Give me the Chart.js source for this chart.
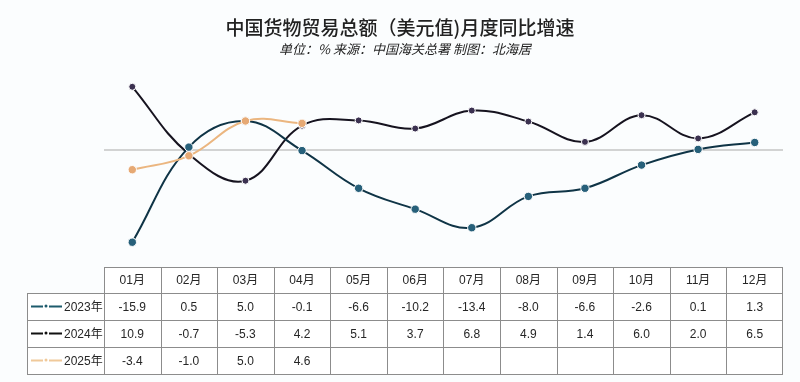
<!DOCTYPE html>
<html><head><meta charset="utf-8">
<script src="https://cdn.jsdelivr.net/npm/chart.js@4/dist/chart.umd.min.js"></script>
<style>html,body{margin:0;padding:0;background:#fbfdfe;}canvas{display:block;}</style>
</head><body>
<canvas id="c" width="800" height="382"></canvas>
<script>
const months = ['01月','02月','03月','04月','05月','06月','07月','08月','09月','10月','11月','12月'];
const seriesNames = ['2023年','2024年','2025年'];
const v2023 = [-15.9, 0.5, 5.0, -0.1, -6.6, -10.2, -13.4, -8.0, -6.6, -2.6, 0.1, 1.3];
const v2024 = [10.9, -0.7, -5.3, 4.2, 5.1, 3.7, 6.8, 4.9, 1.4, 6.0, 2.0, 6.5];
const v2025 = [-3.4, -1.0, 5.0, 4.6, null, null, null, null, null, null, null, null];
const titleText = '中国货物贸易总额（美元值)月度同比增速';
const subtitleText = '单位：% 来源：中国海关总署 制图：北海居';

const lineColors = ['#0f3446', '#16131f', '#ebb680'];
const pointColors = ['#27607a', '#3b3150', '#e6a974'];
const legendColors = ['#1d5b6c', '#111111', '#f0c99a'];
const allSeries = [v2023, v2024, v2025];

const fmt = v => (v === null || v === undefined) ? '' : v.toFixed(1);

const deco = {
  id: 'deco',
  beforeDraw(chart) {
    const ctx = chart.ctx;
    ctx.save();
    ctx.fillStyle = '#fbfdfe';
    ctx.fillRect(0, 0, chart.width, chart.height);
    // zero line
    const y0 = chart.scales.y.getPixelForValue(0);
    const a = chart.chartArea;
    ctx.strokeStyle = '#c4c4c4';
    ctx.lineWidth = 1.5;
    ctx.beginPath(); ctx.moveTo(a.left, y0); ctx.lineTo(a.right, y0); ctx.stroke();
    // titles
    ctx.fillStyle = '#222';
    ctx.textAlign = 'center'; ctx.textBaseline = 'middle';
    ctx.font = '500 19px "Noto Sans CJK SC", sans-serif';
    ctx.fillText(titleText, 400, 28);
    ctx.font = 'italic 13px "Noto Sans CJK SC", sans-serif';
    ctx.fillText(subtitleText, 405, 49);
    // table
    const xs = chart.scales.x;
    const half = (xs.getPixelForValue(1) - xs.getPixelForValue(0)) / 2;
    const rows = [267, 293, 320, 347, 374];
    const left = a.left, right = a.right, legLeft = 27;
    ctx.fillStyle = '#ffffff';
    ctx.fillRect(left, rows[0], right - left, rows[4] - rows[0]);
    ctx.fillRect(legLeft, rows[1], left - legLeft, rows[4] - rows[1]);
    ctx.strokeStyle = '#8c8c8c';
    ctx.lineWidth = 1;
    ctx.beginPath();
    // horizontal lines
    ctx.moveTo(left, rows[0] + 0.5); ctx.lineTo(right, rows[0] + 0.5);
    for (let r = 1; r < rows.length; r++) {
      ctx.moveTo(legLeft, rows[r] + 0.5); ctx.lineTo(right, rows[r] + 0.5);
    }
    // vertical lines
    ctx.moveTo(legLeft + 0.5, rows[1]); ctx.lineTo(legLeft + 0.5, rows[4]);
    for (let i = 0; i < months.length; i++) {
      const xl = Math.round(xs.getPixelForValue(i) - half) + 0.5;
      ctx.moveTo(xl, rows[0]); ctx.lineTo(xl, rows[4]);
    }
    const xr = Math.round(xs.getPixelForValue(months.length - 1) + half) - 0.5;
    ctx.moveTo(xr, rows[0]); ctx.lineTo(xr, rows[4]);
    ctx.stroke();
    // header text
    ctx.fillStyle = '#262626';
    ctx.font = '12px "Liberation Sans", "Noto Sans CJK SC", sans-serif';
    ctx.textAlign = 'center';
    months.forEach((m, i) => ctx.fillText(m, xs.getPixelForValue(i), (rows[0] + rows[1]) / 2 + 1));
    // values
    allSeries.forEach((s, r) => {
      const yc = (rows[r + 1] + rows[r + 2]) / 2 + 1;
      s.forEach((v, i) => ctx.fillText(fmt(v), xs.getPixelForValue(i), yc));
      // legend
      ctx.strokeStyle = legendColors[r];
      ctx.lineWidth = 2;
      ctx.beginPath(); ctx.moveTo(31, yc - 1); ctx.lineTo(43, yc - 1);
      ctx.moveTo(49, yc - 1); ctx.lineTo(62, yc - 1); ctx.stroke();
      ctx.fillStyle = legendColors[r];
      ctx.beginPath(); ctx.arc(46, yc - 1.5, 1.5, 0, Math.PI * 2); ctx.fill();
      ctx.fillStyle = '#262626';
      ctx.textAlign = 'left';
      ctx.fillText(seriesNames[r], 64, yc);
      ctx.textAlign = 'center';
    });
    ctx.restore();
  }
};

new Chart(document.getElementById('c'), {
  type: 'line',
  data: {
    labels: months,
    datasets: allSeries.map((s, i) => ({
      label: seriesNames[i],
      data: s,
      borderColor: lineColors[i],
      backgroundColor: pointColors[i],
      pointBackgroundColor: pointColors[i],
      pointBorderColor: '#ffffff',
      pointBorderWidth: 1,
      pointRadius: i === 1 ? 3.5 : 4.2,
      borderWidth: 2,
      tension: 0.4,
      fill: false,
      spanGaps: false,
      order: i === 2 ? 0 : (i === 0 ? 1 : 2)
    }))
  },
  options: {
    responsive: false,
    animation: false,
    devicePixelRatio: 1,
    layout: { padding: { left: 104, right: 17, top: 63, bottom: 116 } },
    plugins: { legend: { display: false }, title: { display: false }, tooltip: { enabled: false } },
    scales: {
      x: { display: false, offset: true },
      y: { display: false, min: -20, max: 15 }
    }
  },
  plugins: [deco]
});
</script>
</body></html>
